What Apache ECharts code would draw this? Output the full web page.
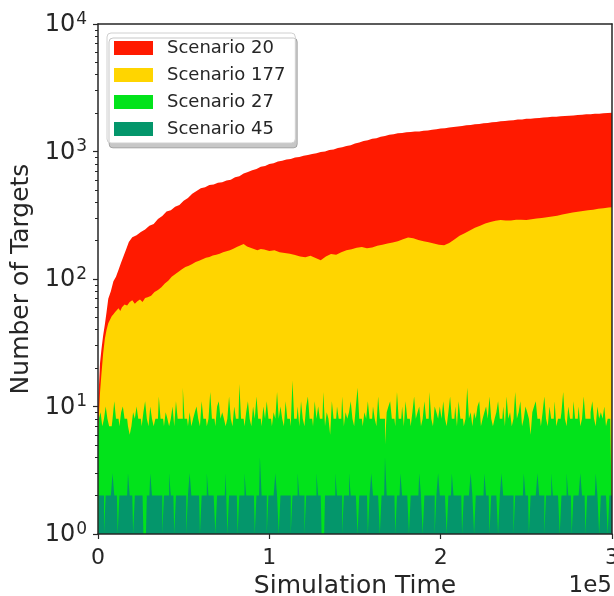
<!DOCTYPE html>
<html>
<head>
<meta charset="utf-8">
<script src="https://cdn.jsdelivr.net/npm/echarts@6/dist/echarts.min.js"></script>
<style>
  html, body { margin: 0; padding: 0; background: #ffffff; }
  #chart { width: 614px; height: 596px; }
</style>
</head>
<body>
<div id="chart"></div>
<script>
// Series names and colours
const seriesNames = ['Scenario 20', 'Scenario 177', 'Scenario 27', 'Scenario 45'];
const seriesColors = ['#ff1a00', '#ffd500', '#02e31b', '#04966b'];

// Scenario 20: [simulation time, number of targets]
const scenario20 = [
  [0, 10], [500, 14], [1200, 22], [2000, 28], [3000, 36], [4000, 44], [5000, 55], [6000, 70],
  [7500, 80], [9000, 96], [10500, 104], [12000, 118], [13500, 135], [15000, 152], [16500, 172],
  [18000, 195], [20000, 213], [22500, 220], [25000, 234], [27500, 244], [30000, 262], [32500, 270],
  [35000, 296], [37500, 312], [40000, 338], [42500, 346], [45000, 368], [47500, 380], [50000, 410],
  [52500, 432], [55000, 466], [57500, 490], [60000, 516], [62500, 524], [65000, 545], [67500, 552],
  [70000, 570], [72500, 574], [75000, 592], [77500, 600], [80000, 628], [82500, 640], [85000, 672],
  [87500, 690], [90000, 712], [92500, 730], [95000, 758], [97500, 770], [100000, 798],
  [102500, 810], [105000, 834], [107500, 846], [110000, 866], [112500, 872], [115000, 896],
  [117500, 906], [120000, 928], [122500, 938], [125000, 958], [127500, 968], [130000, 990],
  [132500, 1000], [135000, 1026], [137500, 1038], [140000, 1064], [142500, 1078], [145000, 1106],
  [147500, 1122], [150000, 1156], [152500, 1174], [155000, 1210], [157500, 1228], [160000, 1260],
  [162500, 1272], [165000, 1306], [167500, 1322], [170000, 1356], [172500, 1366], [175000, 1390],
  [177500, 1396], [180000, 1414], [182500, 1420], [185000, 1434], [187500, 1438], [190000, 1456],
  [192500, 1462], [195000, 1484], [197500, 1494], [200000, 1514], [202500, 1522], [205000, 1546],
  [207500, 1554], [210000, 1574], [212500, 1582], [215000, 1606], [217500, 1612], [220000, 1636],
  [222500, 1644], [225000, 1664], [227500, 1672], [230000, 1696], [232500, 1702], [235000, 1726],
  [237500, 1732], [240000, 1754], [242500, 1760], [245000, 1780], [247500, 1784], [250000, 1804],
  [252500, 1810], [255000, 1826], [257500, 1832], [260000, 1850], [262500, 1854], [265000, 1870],
  [267500, 1876], [270000, 1890], [272500, 1896], [275000, 1910], [277500, 1914], [280000, 1930],
  [282500, 1938], [285000, 1956], [287500, 1960], [290000, 1976], [292500, 1980], [295000, 1996],
  [297500, 2000], [300000, 2014]
];

// Scenario 177: [simulation time, number of targets]
const scenario177 = [
  [0, 6], [600, 9], [1200, 13], [2000, 18], [3000, 26], [4000, 34], [5000, 40], [6000, 45],
  [7000, 48], [8000, 51], [9000, 53], [10000, 55], [11000, 57], [12000, 59], [13000, 56],
  [14000, 60], [15500, 63], [17000, 62], [18500, 66], [20000, 68], [21500, 64], [23000, 67],
  [24500, 69], [26000, 66], [27500, 71], [29000, 72], [31000, 74], [33000, 79], [35000, 82],
  [37000, 86], [39000, 92], [41000, 97], [43000, 104], [45000, 109], [47000, 114], [49000, 119],
  [51000, 124], [53000, 127], [55000, 131], [57000, 136], [59000, 139], [61000, 143], [63000, 147],
  [65000, 149], [67000, 153], [69000, 155], [71000, 158], [73000, 162], [75000, 165], [77000, 168],
  [79000, 173], [81000, 178], [83000, 183], [85000, 188], [87000, 180], [89000, 176], [91000, 172],
  [93000, 168], [95000, 172], [97000, 170], [100000, 166], [103000, 168], [106000, 162],
  [109000, 160], [112000, 158], [115000, 154], [118000, 150], [121000, 148], [124000, 152],
  [127000, 146], [130000, 140], [133000, 150], [136000, 157], [139000, 155], [142000, 162],
  [145000, 168], [148000, 171], [151000, 176], [154000, 178], [157000, 174], [160000, 177],
  [163000, 182], [166000, 186], [169000, 190], [172000, 193], [175000, 198], [178000, 205],
  [181000, 212], [184000, 209], [187000, 202], [190000, 198], [193000, 194], [196000, 190],
  [199000, 186], [202000, 184], [205000, 192], [208000, 204], [211000, 218], [214000, 228],
  [217000, 240], [220000, 252], [223000, 262], [226000, 272], [229000, 280], [232000, 286],
  [235000, 290], [238000, 288], [241000, 287], [244000, 291], [247000, 292], [250000, 290],
  [253000, 294], [256000, 298], [259000, 301], [262000, 305], [265000, 309], [268000, 314],
  [271000, 320], [274000, 327], [277000, 332], [280000, 337], [283000, 342], [286000, 346],
  [289000, 350], [292000, 355], [295000, 359], [298000, 364], [300000, 366]
];

// Scenarios 27 and 45 are logged at a fixed interval of simulation time
const sampleInterval = 1000;

const scenario27 = [
  6, 8, 9, 7, 8, 10, 8, 7, 7, 8, 11, 8, 8, 7, 9, 10, 8, 8, 7, 6,
  7, 9, 8, 10, 8, 8, 7, 9, 11, 8, 7, 10, 8, 7, 8, 8, 12, 8, 8, 7,
  9, 8, 7, 8, 10, 7, 11, 8, 8, 8, 14, 8, 8, 7, 9, 7, 8, 9, 10, 8,
  7, 11, 8, 8, 7, 8, 13, 8, 8, 7, 10, 11, 8, 9, 8, 7, 8, 12, 8, 7,
  10, 8, 8, 15, 8, 8, 7, 9, 11, 8, 7, 10, 8, 12, 8, 8, 7, 10, 8, 11,
  8, 8, 7, 9, 8, 13, 8, 10, 8, 7, 11, 8, 8, 7, 16, 8, 8, 10, 7, 11,
  8, 7, 10, 12, 8, 8, 7, 11, 8, 10, 8, 8, 13, 7, 9, 8, 6, 11, 8, 8,
  10, 8, 8, 12, 7, 9, 8, 9, 11, 8, 7, 10, 14, 8, 8, 7, 9, 8, 11, 8,
  8, 10, 8, 7, 12, 8, 8, 8, 5, 9, 10, 11, 8, 8, 7, 13, 8, 8, 10, 7,
  11, 8, 8, 7, 9, 12, 8, 9, 10, 7, 8, 11, 8, 8, 13, 8, 7, 10, 9, 8,
  10, 8, 11, 8, 7, 9, 12, 8, 8, 10, 7, 11, 8, 8, 7, 8, 14, 8, 9, 7,
  9, 8, 10, 11, 7, 8, 9, 10, 8, 12, 8, 7, 8, 9, 11, 8, 8, 10, 7, 12,
  8, 9, 7, 8, 13, 8, 9, 11, 7, 8, 10, 9, 8, 6, 9, 10, 11, 8, 8, 7,
  9, 12, 8, 7, 10, 8, 8, 11, 7, 8, 8, 9, 13, 8, 7, 10, 8, 8, 11, 8,
  8, 10, 7, 8, 12, 8, 8, 8, 9, 11, 8, 7, 10, 8, 9, 8, 10, 7, 8, 8,
  8
];

const scenario45 = [
  1, 2, 2, 2, 1, 2, 2, 2, 2, 3, 2, 2, 1, 2, 2, 2, 2, 2, 3, 2,
  2, 1, 2, 2, 2, 2, 2, 1, 1, 2, 2, 3, 2, 2, 2, 2, 2, 2, 1, 2,
  2, 2, 3, 2, 2, 1, 2, 2, 2, 2, 2, 2, 1, 2, 3, 2, 2, 2, 2, 2,
  1, 2, 2, 2, 3, 2, 2, 2, 2, 1, 2, 2, 2, 2, 2, 3, 1, 2, 2, 2,
  2, 2, 1, 2, 2, 2, 3, 2, 2, 2, 2, 2, 1, 2, 2, 4, 2, 2, 2, 1,
  2, 2, 2, 2, 3, 2, 1, 2, 2, 2, 2, 2, 2, 1, 2, 2, 2, 3, 2, 2,
  2, 1, 2, 2, 2, 2, 2, 2, 3, 2, 2, 1, 1, 2, 2, 2, 2, 2, 2, 3,
  2, 2, 2, 1, 2, 2, 2, 3, 2, 2, 2, 2, 1, 2, 2, 2, 2, 2, 1, 2,
  3, 2, 2, 2, 2, 1, 2, 2, 4, 2, 2, 2, 2, 2, 1, 2, 2, 3, 2, 2,
  2, 2, 1, 2, 2, 2, 2, 2, 3, 2, 1, 2, 2, 2, 2, 2, 2, 1, 2, 3,
  2, 2, 2, 2, 1, 2, 2, 3, 2, 2, 2, 2, 2, 1, 2, 2, 2, 2, 3, 2,
  1, 2, 2, 2, 2, 2, 3, 2, 2, 1, 2, 2, 2, 2, 1, 2, 3, 2, 2, 2,
  2, 2, 2, 1, 2, 2, 2, 2, 2, 3, 2, 2, 1, 2, 2, 2, 2, 3, 2, 2,
  2, 1, 2, 2, 2, 3, 2, 2, 2, 2, 1, 2, 2, 2, 3, 2, 2, 1, 2, 2,
  2, 2, 3, 2, 2, 1, 2, 2, 2, 2, 2, 3, 2, 1, 2, 2, 2, 2, 1, 2,
  2
];

// Axis ticks
const xTicks = [0, 100000, 200000, 300000];
const xTickLabels = ['0', '1', '2', '3'];
const xOffsetLabel = '1e5';
const yDecades = [1, 10, 100, 1000, 10000];
const yDecadeExponents = ['0', '1', '2', '3', '4'];
const yMinorTicks = [
  2, 3, 4, 5, 6, 7, 8, 9,
  20, 30, 40, 50, 60, 70, 80, 90,
  200, 300, 400, 500, 600, 700, 800, 900,
  2000, 3000, 4000, 5000, 6000, 7000, 8000, 9000
];

const FONT = 'DejaVu Sans';
const INK = '#262626';

function withTimes(values) {
  return values.map((v, i) => [i * sampleInterval, v]);
}

function areaSeries(name, color, data, step) {
  return {
    name: name,
    type: 'line',
    data: data,
    step: step,
    showSymbol: false,
    symbol: 'none',
    silent: true,
    lineStyle: { width: 0, color: color },
    itemStyle: { color: color },
    areaStyle: { color: color, opacity: 1, origin: 'start' }
  };
}

const chart = echarts.init(document.getElementById('chart'), null, { renderer: 'canvas' });

chart.setOption({
  animation: false,
  backgroundColor: '#ffffff',
  textStyle: { fontFamily: FONT },
  grid: { left: 98, right: 2, top: 24, bottom: 62, containLabel: false, outerBoundsMode: 'none' },
  legend: {
    data: seriesNames,
    orient: 'vertical',
    left: 107,
    top: 33,
    icon: 'rect',
    itemWidth: 39,
    itemHeight: 14,
    itemGap: 9,
    padding: [6, 10, 5, 7],
    backgroundColor: '#ffffff',
    borderColor: '#d0d0d0',
    borderWidth: 1,
    borderRadius: 4,
    shadowColor: 'rgba(0,0,0,0.22)',
    shadowOffsetX: 2,
    shadowOffsetY: 5,
    shadowBlur: 0,
    selectedMode: false,
    textStyle: { fontFamily: FONT, fontSize: 18, color: INK, lineHeight: 18, padding: [0, 0, 0, 9] }
  },
  xAxis: [
    {
      type: 'value',
      min: 0,
      max: 300000,
      z: 10,
      name: 'Simulation Time',
      nameLocation: 'middle',
      nameGap: 38,
      nameTextStyle: { fontFamily: FONT, fontSize: 25, color: INK },
      axisLine: { show: true, onZero: false, lineStyle: { color: INK, width: 1.5 } },
      axisTick: { show: true, length: 5, customValues: xTicks, lineStyle: { color: INK, width: 1.2 } },
      axisLabel: {
        customValues: xTicks,
        margin: 13,
        fontFamily: FONT,
        fontSize: 22,
        color: INK,
        formatter: v => xTickLabels[xTicks.indexOf(v)]
      },
      splitLine: { show: false }
    },
    {
      type: 'value',
      position: 'top',
      min: 0,
      max: 300000,
      z: 10,
      axisLine: { show: true, onZero: false, lineStyle: { color: INK, width: 1.5 } },
      axisTick: { show: false },
      axisLabel: { show: false },
      splitLine: { show: false }
    }
  ],
  yAxis: [
    {
      type: 'log',
      logBase: 10,
      min: 1,
      max: 10000,
      z: 10,
      name: 'Number of Targets',
      nameLocation: 'middle',
      nameGap: 58,
      nameTextStyle: { fontFamily: FONT, fontSize: 25, color: INK },
      axisLine: { show: true, onZero: false, lineStyle: { color: INK, width: 1.5 } },
      axisTick: { show: true, length: 5, customValues: yDecades, lineStyle: { color: INK, width: 1.2 } },
      axisLabel: {
        customValues: yDecades,
        margin: 11,
        color: INK,
        formatter: v => '{b|10}{s|' + yDecadeExponents[yDecades.indexOf(v)] + '}',
        rich: {
          b: { fontFamily: FONT, fontSize: 24, color: INK, lineHeight: 26, verticalAlign: 'bottom' },
          s: { fontFamily: FONT, fontSize: 17, color: INK, lineHeight: 16, verticalAlign: 'top', padding: [0, 0, 0, 1] }
        }
      },
      splitLine: { show: false },
      minorTick: { show: false }
    },
    {
      type: 'log',
      logBase: 10,
      min: 1,
      max: 10000,
      position: 'right',
      z: 10,
      axisLine: { show: true, onZero: false, lineStyle: { color: INK, width: 1.5 } },
      axisTick: { show: false },
      axisLabel: { show: false },
      splitLine: { show: false }
    },
    {
      // minor decade subdivisions on the left spine
      type: 'log',
      logBase: 10,
      min: 1,
      max: 10000,
      position: 'left',
      z: 10,
      axisLine: { show: false },
      axisTick: { show: true, length: 3, customValues: yMinorTicks, lineStyle: { color: INK, width: 1 } },
      axisLabel: { show: false },
      splitLine: { show: false }
    }
  ],
  series: [
    areaSeries(seriesNames[0], seriesColors[0], scenario20, false),
    areaSeries(seriesNames[1], seriesColors[1], scenario177, false),
    areaSeries(seriesNames[2], seriesColors[2], withTimes(scenario27), 'middle'),
    areaSeries(seriesNames[3], seriesColors[3], withTimes(scenario45), 'middle')
  ],
  graphic: [
    {
      type: 'text',
      right: 2,
      top: 575,
      style: { text: xOffsetLabel, font: '23px "DejaVu Sans"', fill: INK }
    }
  ]
});
</script>
</body>
</html>
